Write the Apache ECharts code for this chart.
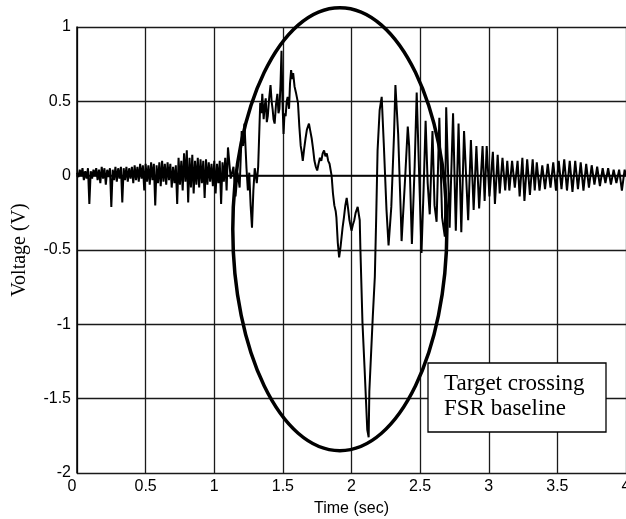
<!DOCTYPE html>
<html>
<head>
<meta charset="utf-8">
<script src="https://cdn.jsdelivr.net/npm/echarts@6/dist/echarts.min.js"></script>
<style>
  html, body { margin: 0; padding: 0; background: #fff; }
  #chart { width: 626px; height: 519px; }
</style>
</head>
<body>
<div id="chart"></div>
<script>
// FSR voltage trace, split by phase of the event.
// Lead-in noise is sampled every 10 ms starting at t = 0.
const leadInStart = 0, leadInStep = 0.01;
const leadInV = [
  0.02, -0.01, 0.04, 0.00, 0.05, -0.03, 0.03, -0.02, 0.05, -0.19,
  0.03, -0.02, 0.04, 0.00, 0.05, -0.03, 0.04, -0.05, 0.06, -0.02,
  0.05, -0.06, 0.04, -0.01, 0.05, -0.21, 0.04, -0.03, 0.06, -0.04,
  0.05, -0.02, 0.06, -0.18, 0.05, -0.03, 0.06, -0.04, 0.05, -0.02,
  0.06, -0.05, 0.07, -0.03, 0.06, -0.04, 0.08, -0.02, 0.07, -0.10,
  0.08, -0.04, 0.07, -0.06, 0.09, -0.03, 0.08, -0.20, 0.07, -0.05,
  0.09, -0.07, 0.10, -0.04, 0.08, -0.06, 0.09, -0.03, 0.08, -0.08,
  0.06, -0.05, 0.07, -0.19, 0.12, -0.06, 0.10, -0.10, 0.15, -0.04,
  0.17, -0.18, 0.12, -0.08, 0.14, -0.12, 0.10, -0.06, 0.12, -0.08,
  0.11, -0.05, 0.10, -0.15, 0.11, -0.06, 0.09, -0.04, 0.08, -0.07,
  0.10, -0.12, 0.08, -0.05, 0.10, -0.19, 0.09, -0.04, 0.12, -0.10
];

// Remaining phases as [time (s), voltage (V)] pairs
const targetRise = [
  [1.10, 0.19], [1.12, -0.02], [1.14, 0.06], [1.155, -0.14], [1.17, 0.02], [1.185, -0.08],
  [1.20, 0.30], [1.21, 0.20], [1.22, 0.35], [1.235, 0.05], [1.245, -0.10], [1.255, 0.02],
  [1.265, -0.20], [1.275, -0.35], [1.285, -0.10], [1.295, 0.05], [1.31, -0.05], [1.32, 0.06],
  [1.335, 0.49], [1.343, 0.42], [1.35, 0.55], [1.36, 0.38], [1.368, 0.47], [1.375, 0.52],
  [1.383, 0.36], [1.39, 0.40], [1.40, 0.52], [1.41, 0.61], [1.418, 0.50], [1.425, 0.45],
  [1.432, 0.38], [1.44, 0.35], [1.45, 0.48], [1.46, 0.55], [1.468, 0.42], [1.475, 0.45],
  [1.483, 0.62], [1.49, 0.84], [1.497, 0.50], [1.505, 0.28], [1.512, 0.42], [1.52, 0.40],
  [1.528, 0.50], [1.535, 0.53], [1.545, 0.45], [1.552, 0.62], [1.56, 0.71], [1.568, 0.65],
  [1.575, 0.69], [1.585, 0.60], [1.595, 0.56], [1.61, 0.49], [1.62, 0.33], [1.63, 0.20],
  [1.637, 0.16], [1.645, 0.10], [1.655, 0.18], [1.665, 0.25], [1.675, 0.31], [1.685, 0.30],
  [1.69, 0.35], [1.70, 0.30], [1.71, 0.25], [1.72, 0.18], [1.73, 0.10], [1.74, 0.06],
  [1.75, 0.035], [1.76, 0.08], [1.77, 0.12], [1.78, 0.10], [1.79, 0.15], [1.80, 0.17],
  [1.81, 0.13], [1.82, 0.15], [1.83, 0.10], [1.84, 0.08]
];

const baselineDrop = [
  [1.855, 0.00], [1.865, -0.12], [1.875, -0.20], [1.885, -0.24], [1.89, -0.28], [1.90, -0.45],
  [1.91, -0.55], [1.92, -0.48], [1.935, -0.35], [1.945, -0.28], [1.955, -0.20], [1.965, -0.15],
  [1.975, -0.22], [1.985, -0.30], [2.00, -0.37], [2.01, -0.33], [2.02, -0.30], [2.03, -0.25],
  [2.045, -0.21], [2.055, -0.27], [2.06, -0.30], [2.065, -0.50],
  [2.08, -0.99], [2.095, -1.29], [2.115, -1.71], [2.125, -1.76], [2.13, -1.45], [2.155, -0.95],
  [2.17, -0.68], [2.18, -0.28], [2.19, 0.17], [2.205, 0.44], [2.22, 0.53], [2.235, 0.22],
  [2.255, -0.23], [2.27, -0.47], [2.29, -0.21], [2.31, 0.28], [2.32, 0.61], [2.34, 0.28],
  [2.36, -0.28], [2.365, -0.44], [2.39, -0.03], [2.41, 0.33], [2.42, 0.20], [2.44, -0.46],
  [2.46, 0.06], [2.475, 0.56], [2.49, 0.10], [2.51, -0.52], [2.525, -0.10], [2.54, 0.37]
];

const ringDown = [
  [2.555, -0.05], [2.57, -0.26], [2.59, 0.30], [2.605, -0.20], [2.62, -0.31], [2.64, 0.39],
  [2.66, -0.28], [2.68, -0.41], [2.69, 0.46], [2.715, -0.35], [2.74, 0.42], [2.76, -0.37],
  [2.78, 0.35], [2.80, -0.38], [2.82, 0.30], [2.85, -0.30], [2.87, 0.24], [2.89, -0.23],
  [2.91, 0.20], [2.93, -0.22], [2.955, 0.20], [2.97, -0.17], [2.985, 0.20], [3.005, -0.14],
  [3.03, 0.16], [3.045, -0.19], [3.065, 0.14], [3.08, -0.12], [3.10, 0.12], [3.12, -0.10],
  [3.135, 0.10], [3.15, -0.10], [3.17, 0.10], [3.19, -0.08], [3.21, 0.10], [3.225, -0.14],
  [3.245, 0.12], [3.26, -0.17], [3.28, 0.11], [3.30, -0.13], [3.32, 0.11], [3.335, -0.10],
  [3.35, 0.09], [3.37, -0.10], [3.39, 0.07], [3.41, -0.09], [3.43, 0.08], [3.45, -0.08],
  [3.47, 0.09], [3.49, -0.10], [3.51, 0.10], [3.53, -0.09], [3.55, 0.11], [3.57, -0.10],
  [3.59, 0.10], [3.61, -0.11], [3.63, 0.10], [3.65, -0.09], [3.67, 0.09], [3.69, -0.10],
  [3.71, 0.08], [3.73, -0.08], [3.75, 0.07], [3.77, -0.06], [3.79, 0.06], [3.81, -0.07],
  [3.83, 0.05], [3.85, -0.05], [3.87, 0.05], [3.89, -0.06], [3.91, 0.04], [3.93, -0.05],
  [3.95, 0.04], [3.97, -0.10], [3.99, 0.04], [4.00, 0.00]
];

// Axis ranges and tick steps
const xRange = [0, 4], xStep = 0.5;
const yRange = [-2, 1], yStep = 0.5;

// Circled event region (data units: centre time/voltage, half-width s, half-height V)
const eventRegion = { t: 1.915, v: -0.36, halfT: 0.78, halfV: 1.49 };
const noteLines = ['Target crossing', 'FSR baseline'];

const leadIn = leadInV.map((v, i) => [+(leadInStart + i * leadInStep).toFixed(2), v]);
const trace = [].concat(leadIn, targetRise, baselineDrop, ringDown);

const chart = echarts.init(document.getElementById('chart'), null, { renderer: 'canvas' });

const gridColor = '#1a1a1a';
const sans = 'Liberation Sans, Arial, sans-serif';
const serif = 'Liberation Serif, Times New Roman, serif';

chart.setOption({
  animation: false,
  backgroundColor: '#fff',
  grid: { left: 77, right: 0, top: 27, bottom: 46, containLabel: false, outerBoundsMode: 'none' },
  xAxis: {
    type: 'value', min: xRange[0], max: xRange[1], interval: xStep,
    name: 'Time (sec)', nameLocation: 'middle', nameGap: 28,
    nameTextStyle: { fontFamily: sans, fontSize: 16, color: '#000' },
    axisLine: { show: true, lineStyle: { color: '#000', width: 1.5 } },
    axisTick: { show: false },
    axisLabel: {
      color: '#000', fontFamily: sans, fontSize: 16, margin: 6,
      formatter: v => v === 0 ? '{z|0}' : String(v),
      rich: { z: { fontFamily: sans, fontSize: 16, color: '#000', padding: [0, 10, 0, 0] } }
    },
    splitLine: { show: true, lineStyle: { color: gridColor, width: 1.3 } }
  },
  yAxis: {
    type: 'value', min: yRange[0], max: yRange[1], interval: yStep,
    name: 'Voltage (V)', nameLocation: 'middle', nameGap: 47,
    nameTextStyle: { fontFamily: serif, fontSize: 20, color: '#000' },
    axisLine: { show: true, lineStyle: { color: '#000', width: 1.5 } },
    axisTick: { show: false },
    axisLabel: { color: '#000', fontFamily: sans, fontSize: 16, margin: 6 },
    splitLine: { show: true, lineStyle: { color: gridColor, width: 1.3 } }
  },
  series: [{
    type: 'line',
    data: trace,
    showSymbol: false,
    symbol: 'none',
    lineStyle: { color: '#000', width: 2 },
    clip: true,
    z: 3
  }]
});

// Annotation: ellipse around the event and the labelled box
const c = chart.convertToPixel({ gridIndex: 0 }, [eventRegion.t, eventRegion.v]);
const e1 = chart.convertToPixel({ gridIndex: 0 }, [eventRegion.t + eventRegion.halfT, eventRegion.v + eventRegion.halfV]);
const rx = Math.abs(e1[0] - c[0]);
const ry = Math.abs(c[1] - e1[1]);

chart.setOption({
  graphic: [
    {
      type: 'ellipse', z: 10,
      shape: { cx: c[0], cy: c[1], rx: rx, ry: ry },
      style: { fill: 'none', stroke: '#000', lineWidth: 3.5 }
    },
    {
      type: 'rect', z: 11,
      shape: { x: 428, y: 363, width: 178, height: 69 },
      style: { fill: '#fff', stroke: '#000', lineWidth: 1.3 }
    },
    {
      type: 'text', z: 12, x: 444, y: 371,
      style: {
        text: noteLines.join('\n'),
        font: '23px ' + serif,
        fill: '#000', lineHeight: 25,
        textAlign: 'left', textVerticalAlign: 'top'
      }
    }
  ]
});
</script>
</body>
</html>
